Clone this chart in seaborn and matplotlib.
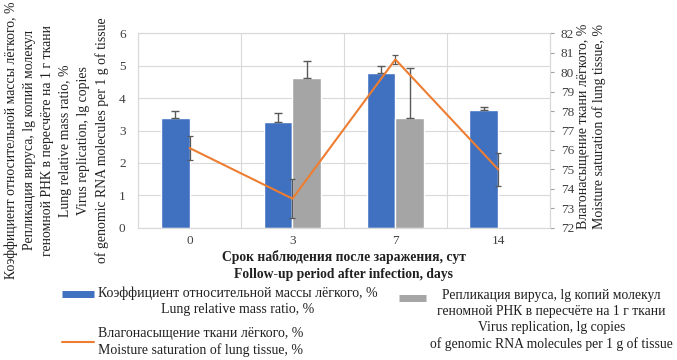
import matplotlib
matplotlib.use("Agg")
import matplotlib.pyplot as plt
from matplotlib.lines import Line2D
from matplotlib.legend_handler import HandlerLine2D
import seaborn as sns
import numpy as np
import pandas as pd

days = ["0", "3", "7", "14"]
mass_ratio = [3.37, 3.27, 4.77, 3.62]
mass_ratio_err = [0.23, 0.26, 0.21, 0.10]
virus = [np.nan, 4.62, 3.38, np.nan]
virus_err = [np.nan, 0.53, 1.54, np.nan]
moisture = [76.1, 73.5, 80.65, 75.0]
moisture_err = [0.6, 1.0, 0.25, 0.85]

lbl_mass = "Коэффициент относительной массы лёгкого, %\nLung relative mass ratio, %"
lbl_virus = ("Репликация вируса, lg копий молекул\nгеномной РНК в пересчёте на 1 г ткани\n"
             "Virus replication, lg copies\nof genomic RNA molecules per 1 g of tissue")
lbl_moist = "Влагонасыщение ткани лёгкого, %\nMoisture saturation of lung tissue, %"

blue = "#4070c0"
grey = "#a5a5a5"
orange = "#ed7d31"
errc = "#595959"
gridc = "#d9d9d9"
txtc = "#202020"


class RaisedLine(HandlerLine2D):
    # legend key aligned with the first text line instead of the middle
    def __init__(self, dy, **kw):
        super().__init__(**kw)
        self.dy = dy

    def create_artists(self, *args, **kwargs):
        arts = super().create_artists(*args, **kwargs)
        for a in arts:
            a.set_ydata(np.asarray(a.get_ydata()) + self.dy)
        return arts


df = pd.DataFrame({
    "day": days * 2,
    "value": mass_ratio + virus,
    "series": ["mass"] * 4 + ["virus"] * 4,
}).dropna()

sns.set_style("white")
plt.rcParams["font.family"] = ["Liberation Serif", "DejaVu Serif"]

fig = plt.figure(figsize=(6.77, 3.6), dpi=100)
ax = fig.add_axes([0.204, 0.367, 0.608, 0.541])

sns.barplot(data=df, x="day", y="value", hue="series", order=days,
            hue_order=["mass", "virus"], palette=[blue, grey], width=0.56,
            saturation=1, legend=False, ax=ax, zorder=2)

# error bars (upper only) on the bars
for cont, err in zip(ax.containers, [mass_ratio_err, virus_err]):
    for bar in cont:
        xc = bar.get_x() + bar.get_width() / 2
        i = int(round(xc))
        ax.errorbar(xc, bar.get_height(), yerr=[[0], [err[i]]], fmt="none",
                    ecolor=errc, elinewidth=1, capsize=3, capthick=1, zorder=3)

ax.set_ylim(0, 6)
ax.set_xlim(-0.5, 3.5)
ax.set_yticks(range(7))
ax.set_xticks(np.arange(0.5, 3, 1), minor=True)
ax.grid(axis="y", color=gridc, lw=0.8)
ax.grid(axis="x", which="minor", color=gridc, lw=0.8)
ax.set_axisbelow(True)
for s in ax.spines.values():
    s.set_color(gridc)
ax.tick_params(axis="both", which="both", length=0, colors="#404040", labelsize=9.5)
ax.tick_params(axis="y", pad=9)
ax.tick_params(axis="x", pad=5)
ax.set_xlabel("Срок наблюдения после заражения, сут\nFollow-up period after infection, days",
              fontsize=9.8, fontweight="bold", labelpad=2, linespacing=1.4, color=txtc)
ax.set_ylabel("")

ax2 = ax.twinx()
sns.lineplot(x=np.arange(len(days)), y=moisture, color=orange, lw=1.5, ax=ax2, zorder=4)
ax2.errorbar(np.arange(len(days)), moisture, yerr=moisture_err, fmt="none",
             ecolor=errc, elinewidth=0.9, capsize=2, capthick=0.9, zorder=3)
ax2.set_ylim(72, 82)
ax2.set_yticks(range(72, 83))
for s in ax2.spines.values():
    s.set_color(gridc)
ax2.tick_params(axis="y", length=3, color="#a0a0a0", colors="#404040", labelsize=9.5, pad=5)
ax2.set_ylabel(lbl_moist, fontsize=10, linespacing=1.25, color=txtc)
ax2.yaxis.set_label_coords(1.066, 0.523)

fig.text(0.0835, 0.61, "Коэффициент относительной массы лёгкого, %\n"
         "Репликация вируса, lg копий молекул\nгеномной РНК в пересчёте на 1 г ткани\n"
         "Lung relative mass ratio, %\nVirus replication, lg copies\n"
         "of genomic RNA molecules per 1 g of tissue",
         rotation=90, ha="center", va="center", fontsize=9.9, linespacing=1.5,
         color=txtc)

h_mass = Line2D([], [], color=blue, lw=5, solid_capstyle="butt")
h_moist = Line2D([], [], color=orange, lw=1.5)
h_virus = Line2D([], [], color=grey, lw=5, solid_capstyle="butt")

leg_kw = dict(frameon=False, borderaxespad=0, borderpad=0,
              handletextpad=0.3, loc="upper left")
leg1 = fig.legend([h_mass, h_moist], [lbl_mass, lbl_moist],
                  bbox_to_anchor=(0.0916, 0.205), fontsize=10, handlelength=2.3,
                  labelspacing=0.8, handler_map={h_mass: RaisedLine(5)}, **leg_kw)
leg2 = fig.legend([h_virus], [lbl_virus], bbox_to_anchor=(0.589, 0.197),
                  fontsize=9.8, handlelength=2.0,
                  handler_map={h_virus: RaisedLine(16)}, **leg_kw)
for leg in (leg1, leg2):
    for t in leg.get_texts():
        t.set_multialignment("center")
        t.set_linespacing(1.3)
        t.set_color(txtc)

fig.savefig("out.png", dpi=100)
